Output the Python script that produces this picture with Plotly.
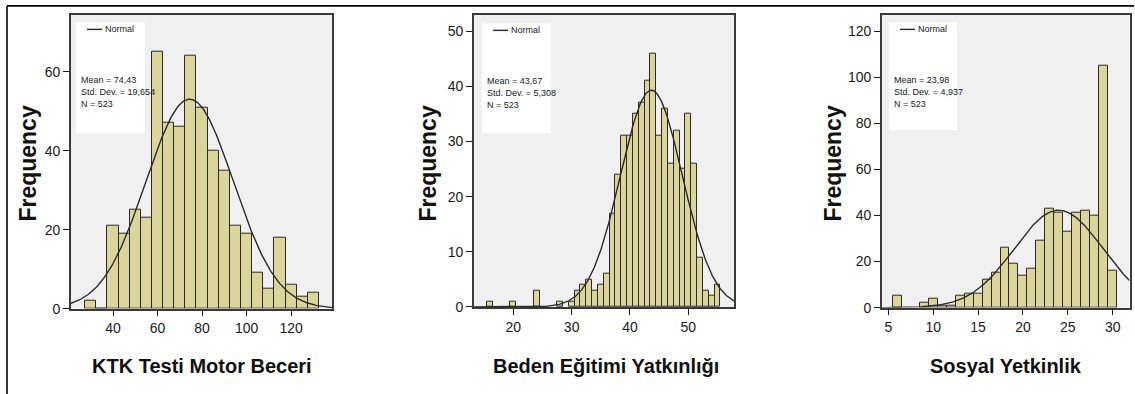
import numpy as np
import plotly.graph_objects as go

W, H = 1135, 394

# ---------------- data ----------------
ktk_bins = [30, 35, 40, 45, 50, 55, 60, 65, 70, 75, 80, 85, 90, 95, 100, 105, 110, 115, 120, 125, 130]
ktk_counts = [2, 0, 21, 19, 25, 23, 65, 47, 46, 64, 51, 40, 35, 21, 19, 9, 5, 18, 6, 3, 4]
ktk_stats = dict(mean=74.43, sd=19.654, n=523, width=5)

bey_bins = [16, 20, 24, 28, 30, 31, 32, 33, 34, 35, 36, 37, 38, 39, 40, 41, 42, 43, 44, 45,
            46, 47, 48, 49, 50, 51, 52, 53, 54, 55]
bey_counts = [1, 1, 3, 1, 1, 3, 4, 5, 3, 4, 6, 17, 24, 31, 31, 35, 37, 41, 46, 31,
              36, 26, 32, 25, 35, 26, 9, 3, 2, 4]
bey_stats = dict(mean=43.67, sd=5.308, n=523, width=1)

sy_bins = [6, 9, 10, 11, 12, 13, 14, 15, 16, 17, 18, 19, 20, 21, 22, 23, 24, 25, 26, 27, 28, 29, 30]
sy_counts = [5, 2, 4, 1, 1, 5, 6, 6, 12, 15, 26, 19, 14, 17, 29, 43, 41, 33, 41, 42, 40, 105, 16]
sy_stats = dict(mean=23.98, sd=4.937, n=523, width=1)

x_titles = ["KTK Testi Motor Beceri", "Beden Eğitimi Yatkınlığı", "Sosyal Yetkinlik"]
stat_labels = [
    ["Mean = 74,43", "Std. Dev. = 19,654", "N = 523"],
    ["Mean = 43,67", "Std. Dev. = 5,308", "N = 523"],
    ["Mean = 23,98", "Std. Dev. = 4,937", "N = 523"],
]
x_ticks = [[40, 60, 80, 100, 120], [20, 30, 40, 50], [5, 10, 15, 20, 25, 30]]
y_ticks = [[0, 20, 40, 60], [0, 10, 20, 30, 40, 50], [0, 20, 40, 60, 80, 100, 120]]

# ---------------- layout geometry (pixels) ----------------
panels = [
    dict(bins=ktk_bins, counts=ktk_counts, st=ktk_stats, px=(71, 332), py=(15, 315),
         xr=(21.1, 138.4), yr=(0, 74.5), box=(76, 23, 145, 136), freq_x=28, title_x=202),
    dict(bins=bey_bins, counts=bey_counts, st=bey_stats, px=(474, 734), py=(15, 313.3),
         xr=(13.26, 57.83), yr=(0, 53), box=(482, 24, 551, 136), freq_x=428, title_x=606),
    dict(bins=sy_bins, counts=sy_counts, st=sy_stats, px=(882, 1129.5), py=(15, 314),
         xr=(4.30, 31.87), yr=(0, 127.1), box=(889, 23, 957, 133), freq_x=833, title_x=1006),
]


def fx(x):
    return x / W


def fy(y):
    return 1 - y / H


BAR_FILL = "#dbd59c"
BAR_LINE = "#2a2a2a"
TICK_FONT = dict(family="Liberation Sans Narrow, Arial Narrow, Liberation Sans, Arial", size=14, color="#1a1a1a")
SMALL_FONT = dict(family="Liberation Sans Narrow, Arial Narrow, Liberation Sans, Arial", size=9, color="#1a1a1a")
TITLE_FONT = dict(family="Liberation Sans, Arial", size=20, color="#111111")
FREQ_FONT = dict(family="Liberation Sans, Arial", size=23, color="#111111")

fig = go.Figure()
shapes = []
annotations = []

for i, p in enumerate(panels):
    ax = "" if i == 0 else str(i + 1)
    xa, ya = "x" + ax, "y" + ax
    st = p["st"]
    fig.add_trace(go.Bar(
        x=p["bins"], y=p["counts"], width=st["width"],
        marker=dict(color=BAR_FILL, line=dict(color=BAR_LINE, width=1)),
        xaxis=xa, yaxis=ya, showlegend=False, hoverinfo="x+y",
    ))
    xs = np.linspace(p["xr"][0], p["xr"][1], 300)
    ys = st["n"] * st["width"] / (st["sd"] * np.sqrt(2 * np.pi)) * np.exp(-0.5 * ((xs - st["mean"]) / st["sd"]) ** 2)
    fig.add_trace(go.Scatter(
        x=xs, y=ys, mode="lines", line=dict(color="#2a2a2a", width=1.4),
        xaxis=xa, yaxis=ya, showlegend=False, hoverinfo="skip",
    ))

    axis_common = dict(showgrid=False, zeroline=False, showline=True, linecolor="#3a3a3a",
                       linewidth=1.6, mirror=True, ticks="outside", ticklen=6, tickwidth=1.3,
                       tickcolor="#1a1a1a", tickfont=TICK_FONT, fixedrange=True)
    fig.layout["xaxis" + ax] = dict(
        domain=[fx(p["px"][0]), fx(p["px"][1])], range=list(p["xr"]),
        tickvals=x_ticks[i], anchor=ya, **axis_common)
    fig.layout["yaxis" + ax] = dict(
        domain=[fy(p["py"][1]), fy(p["py"][0])], range=list(p["yr"]),
        tickvals=y_ticks[i], anchor=xa, **axis_common)

    # stats box
    bx0, by0, bx1, by1 = p["box"]
    shapes.append(dict(type="rect", xref="paper", yref="paper", x0=fx(bx0), x1=fx(bx1),
                       y0=fy(by1), y1=fy(by0), fillcolor="white", line=dict(width=0), layer="above"))
    # legend line
    shapes.append(dict(type="line", xref="paper", yref="paper", x0=fx(bx0 + 11), x1=fx(bx0 + 26),
                       y0=fy(by0 + 7), y1=fy(by0 + 7), line=dict(color="#2a2a2a", width=1.4), layer="above"))
    annotations.append(dict(xref="paper", yref="paper", x=fx(bx0 + 27), y=fy(by0 + 7), text="Normal",
                            showarrow=False, xanchor="left", yanchor="middle", font=SMALL_FONT))
    for k, line in enumerate(stat_labels[i]):
        annotations.append(dict(xref="paper", yref="paper", x=fx(bx0 + 3), y=fy(by0 + 59 + k * 12),
                                text=line, showarrow=False, xanchor="left", yanchor="middle",
                                font=SMALL_FONT))
    # axis titles
    annotations.append(dict(xref="paper", yref="paper", x=fx(p["freq_x"]), y=fy(167),
                            text="<b>Frequency</b>", textangle=-90, showarrow=False,
                            xanchor="center", yanchor="middle", font=FREQ_FONT))
    annotations.append(dict(xref="paper", yref="paper", x=fx(p["title_x"]), y=fy(374),
                            text="<b>" + x_titles[i] + "</b>", showarrow=False,
                            xanchor="center", yanchor="middle", font=TITLE_FONT))

# outer frame (top and left edges visible)
shapes.append(dict(type="line", xref="paper", yref="paper", x0=fx(7), x1=fx(1134),
                   y0=fy(6), y1=fy(6), line=dict(color="black", width=1.6)))
shapes.append(dict(type="line", xref="paper", yref="paper", x0=fx(7), x1=fx(7),
                   y0=fy(6), y1=-0.05, line=dict(color="black", width=1.6)))

fig.update_layout(
    width=W, height=H, margin=dict(l=0, r=0, t=0, b=0),
    paper_bgcolor="white", plot_bgcolor="#f0f0f0",
    shapes=shapes, annotations=annotations, bargap=0,
)

fig.write_html(
    "out.html",
    config={"displayModeBar": False},
    post_script="document.body.style.margin='0';document.body.style.overflow='hidden';",
)
